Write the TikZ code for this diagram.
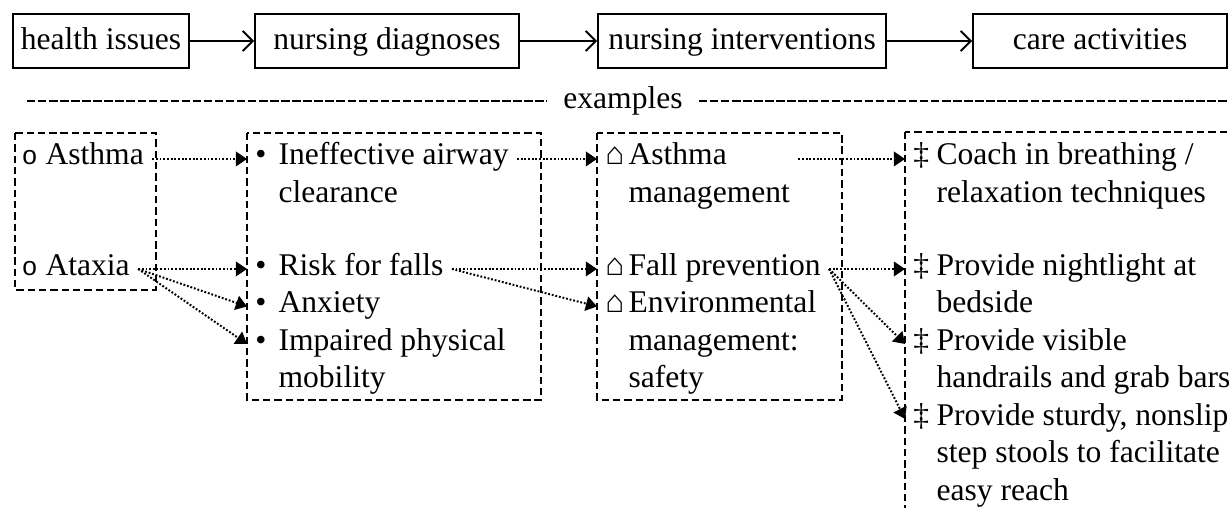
\documentclass[tikz,border=0pt]{standalone}
\usepackage{fontspec}
\setmainfont{Liberation Serif}
\newfontfamily\circfont{Liberation Sans}
\usepackage{tikz}
\usetikzlibrary{arrows.meta}
\usetikzlibrary{positioning}

\newcommand{\itemline}[2]{\makebox[8.8pt][l]{#1}#2}
\newcommand{\itemcont}[1]{\hspace*{8.8pt}#1}

\tikzset{
  topbox/.style={draw, line width=0.75pt, minimum height=20.5pt, inner sep=0pt, text height=8.5pt, text depth=1.7pt},
  item/.style={anchor=base west, inner xsep=3pt, inner ysep=1pt},
  groupbox/.style={line width=0.65pt, dash pattern=on 2.8pt off 1.5pt},
  sepline/.style={line width=0.75pt, dash pattern=on 3.2pt off 1pt},
  flow/.style={line width=0.75pt, -{Straight Barb[length=3.8pt,width=7.6pt]}},
  link/.style={line width=0.75pt, dash pattern=on 0.7pt off 0.7pt, -{Triangle[length=4.2pt,width=5.5pt]}}
}

\begin{document}
\begin{tikzpicture}[x=0.38pt, y=-0.38pt, font=\fontsize{12}{14.25}\selectfont]
       \clip (0,0) rectangle (1229,508);

       % process chain
       \node[topbox, minimum width=66.9pt]  (health) at (101,41)  {health issues};
       \node[topbox, minimum width=100.3pt] (diag)   at (387,41)  {nursing diagnoses};
       \node[topbox, minimum width=109.4pt] (interv) at (742,41)  {nursing interventions};
       \node[topbox, minimum width=96.5pt]  (care)   at (1100,41) {care activities};
       \draw[flow] (health) -- (diag);
       \draw[flow] (diag) -- (interv);
       \draw[flow] (interv) -- (care);

       % separator
       \node[inner xsep=6pt] (ex) at (623,101) {examples};
       \coordinate (sepl) at (27,101);
       \coordinate (sepr) at (1229,101);
       \draw[sepline] (sepl) -- (ex);
       \draw[sepline] (ex) -- (sepr);

       % example groups
       \draw[groupbox] (15,133) rectangle (156,290);
       \draw[groupbox] (247,133) rectangle (541,400);
       \draw[groupbox] (597,133) rectangle (842,400);
       \draw[groupbox] (905,132) rectangle (1300,560);

       \node[item] (asthma) at (14,165) {\itemline{{\circfont\fontsize{10}{12}\selectfont o}}{Asthma}};
       \node[item] (ataxia) at (14,275) {\itemline{{\circfont\fontsize{10}{12}\selectfont o}}{Ataxia}};

       \node[item] (airway)    at (247,165)   {\itemline{•}{Ineffective airway}};
       \node[item] (airwayb)   at (247,202.5) {\itemcont{clearance}};
       \node[item] (falls)     at (247,275)   {\itemline{•}{Risk for falls}};
       \node[item] (anxiety)   at (247,312.5) {\itemline{•}{Anxiety}};
       \node[item] (impaired)  at (247,350)   {\itemline{•}{Impaired physical}};
       \node[item] (impairedb) at (247,387.5) {\itemcont{mobility}};

       \node[item] (asthmamgt)  at (597,165)   {\itemline{⌂}{Asthma}};
       \node[item] (asthmamgtb) at (597,202.5) {\itemcont{management}};
       \node[item] (fallprev)   at (597,275)   {\itemline{⌂}{Fall prevention}};
       \node[item] (envmgt)     at (597,312.5) {\itemline{⌂}{Environmental}};
       \node[item] (envmgtb)    at (597,350)   {\itemcont{management:}};
       \node[item] (envmgtc)    at (597,387.5) {\itemcont{safety}};

       \node[item] (coach)   at (905,165)   {\itemline{‡}{Coach in breathing /}};
       \node[item] (coachb)  at (905,202.5) {\itemcont{relaxation techniques}};
       \node[item] (night)   at (905,275)   {\itemline{‡}{Provide nightlight at}};
       \node[item] (nightb)  at (905,312.5) {\itemcont{bedside}};
       \node[item] (rails)   at (905,350)   {\itemline{‡}{Provide visible}};
       \node[item] (railsb)  at (905,387.5) {\itemcont{handrails and grab bars}};
       \node[item] (stools)  at (905,425)   {\itemline{‡}{Provide sturdy, nonslip}};
       \node[item] (stoolsb) at (905,462.5) {\itemcont{step stools to facilitate}};
       \node[item] (stoolsc) at (905,500)   {\itemcont{easy reach}};

       % links
       \draw[link] (asthma.mid east) -- (airway.mid west);
       \draw[link] (ataxia.mid east) -- (falls.mid west);
       \draw[link] (ataxia.mid east) -- (anxiety.mid west);
       \draw[link] (ataxia.mid east) -- (impaired.mid west);
       \draw[link] (airway.mid east) -- (asthmamgt.mid west);
       \draw[link] (falls.mid east) -- (fallprev.mid west);
       \draw[link] (falls.mid east) -- (envmgt.mid west);
       \draw[link] (asthmamgt.mid -| asthmamgtb.east) -- (coach.mid west);
       \draw[link] (fallprev.mid east) -- (night.mid west);
       \draw[link] (fallprev.mid east) -- (rails.mid west);
       \draw[link] (fallprev.mid east) -- (stools.mid west);
    \end{tikzpicture}
\end{document}
